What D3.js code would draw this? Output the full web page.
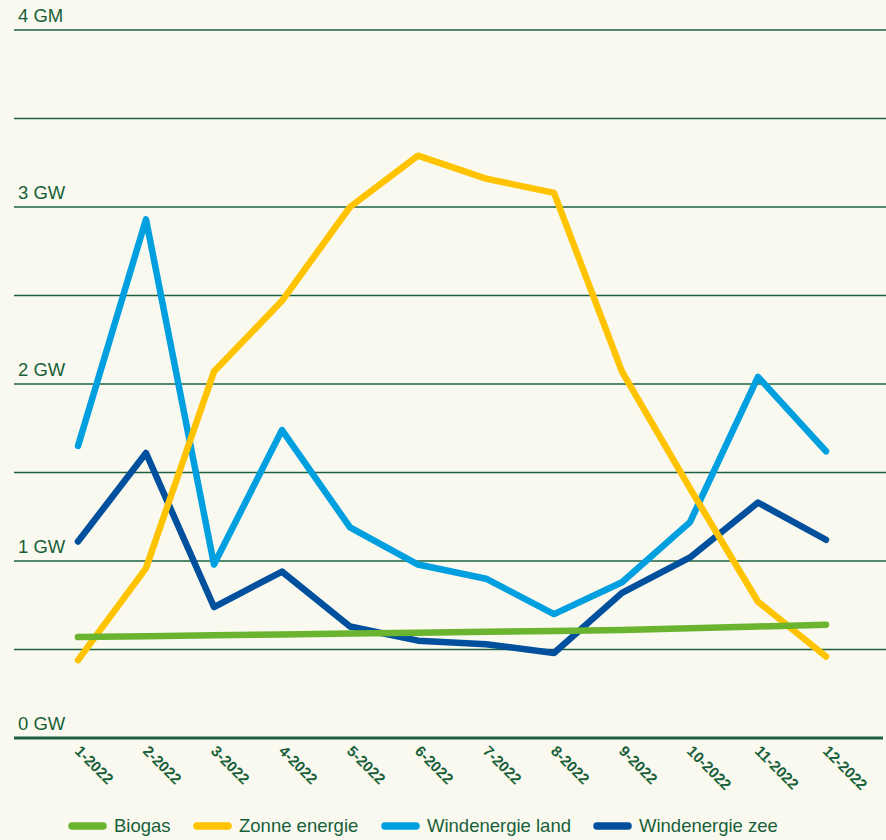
<!DOCTYPE html>
<html>
<head>
<meta charset="utf-8">
<script src="https://cdn.jsdelivr.net/npm/d3@7"></script>
<style>
	body { margin: 0; background: #faf9ef; }
	svg { display: block; font-family: "Liberation Sans", Arial, sans-serif; }
</style>
</head>
<body>
<div class="chart"></div>
<script>
// data (GW per month)
var months = ["1-2022", "2-2022", "3-2022", "4-2022", "5-2022", "6-2022",
	"7-2022", "8-2022", "9-2022", "10-2022", "11-2022", "12-2022"];
var biogas = [0.57, 0.575, 0.58, 0.585, 0.59, 0.595, 0.60, 0.605, 0.61, 0.62, 0.63, 0.64];
var zonne = [0.44, 0.96, 2.07, 2.47, 3.0, 3.29, 3.16, 3.08, 2.07, 1.41, 0.77, 0.46];
var windLand = [1.65, 2.93, 0.98, 1.74, 1.19, 0.98, 0.90, 0.70, 0.88, 1.22, 2.04, 1.62];
var windZee = [1.11, 1.61, 0.74, 0.94, 0.63, 0.55, 0.53, 0.48, 0.82, 1.02, 1.33, 1.12];
var yTicks = [0, 0.5, 1, 1.5, 2, 2.5, 3, 3.5, 4];
var yLabels = { 0: "0 GW", 1: "1 GW", 2: "2 GW", 3: "3 GW", 4: "4 GM" };

var series = [
	{ name: "Biogas", values: biogas, color: "#6ab42f" },
	{ name: "Zonne energie", values: zonne, color: "#ffc300" },
	{ name: "Windenergie land", values: windLand, color: "#009fe0" },
	{ name: "Windenergie zee", values: windZee, color: "#00509e" }
];

var width = 886, height = 840;
var textColor = "#17603a";

var svg = d3.select(".chart").append("svg")
	.attr("width", width)
	.attr("height", height);

svg.append("rect").attr("width", width).attr("height", height).attr("fill", "#faf9ef");

var x = d3.scalePoint().domain(months).range([78, 826]);
var y = d3.scaleLinear().domain([0, 4]).range([738, 30]);

// grid lines
svg.append("g").selectAll("line")
	.data(yTicks)
	.enter().append("line")
	.attr("x1", 14)
	.attr("x2", function (d) { return d === 0 ? 883 : 886; })
	.attr("y1", function (d) { return y(d); })
	.attr("y2", function (d) { return y(d); })
	.attr("stroke", "#1d6240")
	.attr("stroke-width", function (d) { return d === 0 ? 3 : 1.4; });

// y labels sit above their line
svg.append("g").selectAll("text")
	.data(yTicks.filter(function (d) { return yLabels[d]; }))
	.enter().append("text")
	.attr("x", 18)
	.attr("y", function (d) { return y(d) - 8; })
	.attr("fill", textColor)
	.style("font-size", "18.5px")
	.text(function (d) { return yLabels[d]; });

// month labels, rotated
svg.append("g").selectAll("text")
	.data(months)
	.enter().append("text")
	.attr("transform", function (d) { return "translate(" + (x(d) - 4) + ",752) rotate(45)"; })
	.attr("fill", textColor)
	.style("font-size", "15px")
	.style("font-weight", "bold")
	.text(function (d) { return d; });

// lines (legend order reversed so biogas sits on top)
var line = d3.line()
	.x(function (d, i) { return x(months[i]); })
	.y(function (d) { return y(d); });

svg.append("g").selectAll("path")
	.data(series.slice().reverse())
	.enter().append("path")
	.attr("d", function (d) { return line(d.values); })
	.attr("fill", "none")
	.attr("stroke", function (d) { return d.color; })
	.attr("stroke-width", 6.5)
	.attr("stroke-linecap", "round")
	.attr("stroke-linejoin", "round");

// legend
var legendX = [69, 194, 382, 594];
var legend = svg.append("g").selectAll("g")
	.data(series)
	.enter().append("g")
	.attr("transform", function (d, i) { return "translate(" + legendX[i] + ",826)"; });

legend.append("line")
	.attr("x1", 3).attr("x2", 34)
	.attr("stroke", function (d) { return d.color; })
	.attr("stroke-width", 7.5)
	.attr("stroke-linecap", "round");

legend.append("text")
	.attr("x", 45)
	.attr("dy", "0.35em")
	.attr("fill", textColor)
	.style("font-size", "18.5px")
	.text(function (d) { return d.name; });
</script>
</body>
</html>
